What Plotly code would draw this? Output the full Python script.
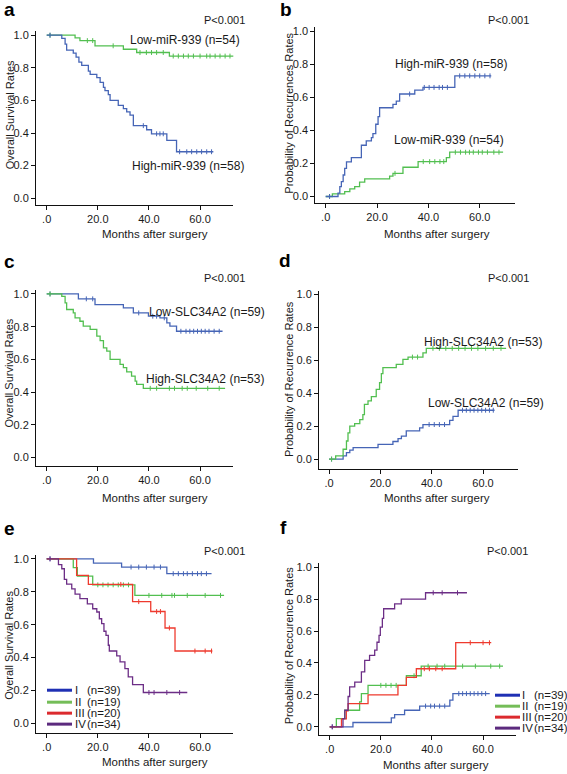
import numpy as np
import plotly.graph_objects as go

W, H = 567, 774

# ---------------- data ----------------
# panel a: overall survival by miR-939
a_low_t = [0, 11.1, 13.0, 18.9, 30.0, 35.2, 48.0]
a_low_s = [1.0, 0.984, 0.967, 0.935, 0.914, 0.894, 0.872]
a_low_end = 73.5
a_low_cens = [1.3, 15.9, 18.0, 26.0, 36.5, 39.0, 41.0, 43.0, 45.6, 49.5, 51.5, 53.5, 55.4, 57.4, 60.0, 62.6, 63.9, 65.9, 67.8, 69.8, 71.7]
a_high_t = [0, 5.9, 7.2, 7.8, 10.4, 11.5, 12.6, 13.7, 16.3, 17.0, 19.6, 20.9, 22.2, 22.8, 24.1, 24.8, 28.0, 30.0, 31.3, 32.6, 33.9, 39.1, 41.0, 47.0, 50.8]
a_high_s = [1.0, 0.98, 0.945, 0.908, 0.89, 0.865, 0.835, 0.815, 0.78, 0.76, 0.74, 0.71, 0.68, 0.66, 0.635, 0.60, 0.57, 0.55, 0.53, 0.51, 0.445, 0.42, 0.395, 0.355, 0.285]
a_high_end = 65.2
a_high_cens = [1.3, 37.8, 43.0, 44.3, 45.6, 52.0, 54.8, 56.7, 58.7, 60.6, 62.6, 64.5]

# panel b: recurrence by miR-939
b_high_t = [0, 4.8, 5.5, 6.1, 6.8, 7.4, 8.1, 10.0, 13.9, 15.8, 17.8, 18.4, 19.5, 20.4, 21.0, 26.2, 27.5, 28.8, 34.7, 37.9, 50.3]
b_high_s = [0, 0.02, 0.06, 0.09, 0.13, 0.17, 0.21, 0.235, 0.31, 0.336, 0.356, 0.38, 0.437, 0.483, 0.537, 0.557, 0.577, 0.62, 0.644, 0.66, 0.73]
b_high_end = 64.5
b_high_cens = [1.5, 32.7, 38.4, 40.3, 42.2, 44.2, 45.5, 47.4, 52.2, 54.2, 56.1, 58.1, 60.0, 62.0, 64.0]
b_low_t = [0, 2.6, 7.4, 9.4, 11.3, 13.2, 15.2, 24.9, 26.2, 30.1, 36.0, 47.0, 48.3]
b_low_s = [0, 0.016, 0.03, 0.046, 0.06, 0.087, 0.107, 0.123, 0.14, 0.177, 0.211, 0.235, 0.268]
b_low_end = 69.1
b_low_cens = [1.5, 27.0, 38.0, 40.5, 42.5, 44.5, 46.0, 50.5, 52.5, 54.5, 56.0, 57.5, 59.5, 61.0, 63.0, 65.5, 67.5]

# panel c: overall survival by SLC34A2
c_low_t = [0, 12.4, 18.9, 30.0, 33.9, 39.8, 44.3, 47.0, 48.2, 50.8]
c_low_s = [1.0, 0.97, 0.935, 0.915, 0.884, 0.864, 0.854, 0.823, 0.803, 0.772]
c_low_end = 68.8
c_low_cens = [1.3, 15.5, 18.0, 36.0, 41.5, 43.0, 46.0, 52.5, 54.5, 56.0, 57.5, 59.0, 60.5, 62.0, 63.5, 65.5, 67.5]
c_high_t = [0, 5.9, 7.2, 7.8, 10.4, 11.1, 13.0, 14.3, 17.0, 19.6, 20.9, 22.2, 23.5, 24.8, 28.7, 30.0, 31.3, 33.2, 34.6, 35.2, 37.8]
c_high_s = [1.0, 0.985, 0.945, 0.905, 0.884, 0.854, 0.833, 0.803, 0.783, 0.742, 0.715, 0.67, 0.65, 0.60, 0.57, 0.55, 0.524, 0.498, 0.467, 0.447, 0.423]
c_high_end = 69.8
c_high_cens = [1.3, 40.5, 43.0, 48.0, 50.0, 53.0, 55.0, 58.5, 63.0, 67.5]

# panel d: recurrence by SLC34A2
d_high_t = [0, 2.6, 5.5, 6.8, 7.4, 8.1, 10.0, 12.0, 13.2, 13.8, 15.2, 16.5, 18.4, 19.7, 20.4, 21.0, 26.2, 28.8, 30.8, 36.6, 37.9]
d_high_s = [0, 0.02, 0.06, 0.11, 0.16, 0.20, 0.216, 0.24, 0.27, 0.333, 0.354, 0.38, 0.424, 0.465, 0.52, 0.556, 0.576, 0.606, 0.62, 0.646, 0.673]
d_high_end = 69.0
d_high_cens = [1.0, 32.5, 34.5, 40.5, 43.0, 45.5, 48.0, 50.5, 53.0, 55.5, 58.0, 61.0, 64.0, 67.0]
d_low_t = [0, 5.5, 6.8, 8.1, 9.4, 19.1, 24.9, 26.9, 28.2, 30.1, 35.3, 36.6, 47.0, 48.3, 50.3]
d_low_s = [0, 0.02, 0.04, 0.055, 0.07, 0.09, 0.107, 0.125, 0.14, 0.172, 0.19, 0.21, 0.235, 0.26, 0.297]
d_low_end = 64.5
d_low_cens = [1.0, 39.0, 41.0, 43.0, 45.0, 52.0, 53.5, 55.0, 56.5, 58.0, 59.5, 61.0, 62.5, 64.0]

# panel e: overall survival by stage
e_I_t = [0, 18.3, 29.3, 47.0]
e_I_s = [1.0, 0.974, 0.95, 0.91]
e_I_end = 64.5
e_I_cens = [1.3, 33.0, 36.0, 39.0, 42.0, 44.5, 49.5, 51.5, 53.5, 55.0, 57.0, 59.0, 60.5, 62.5]
e_II_t = [0, 10.4, 12.0, 18.0, 34.5]
e_II_s = [1.0, 0.947, 0.895, 0.842, 0.778]
e_II_end = 69.4
e_II_cens = [20.0, 22.0, 24.0, 26.0, 28.0, 30.0, 32.0, 40.0, 45.0, 49.0, 50.0, 55.0, 62.0, 68.0]
e_III_t = [0, 11.7, 16.3, 33.6, 40.7, 46.3, 50.2]
e_III_s = [1.0, 0.90, 0.845, 0.74, 0.68, 0.58, 0.44]
e_III_end = 64.8
e_III_cens = [29.0, 36.0, 43.0, 44.5, 48.0, 58.0, 62.0, 64.5]
e_IV_t = [0, 4.6, 5.9, 6.9, 7.8, 9.8, 11.1, 13.0, 15.9, 18.0, 19.6, 20.6, 21.5, 22.4, 23.2, 24.1, 24.5, 27.4, 28.7, 30.6, 31.9, 33.6, 37.8]
e_IV_s = [1.0, 0.965, 0.94, 0.875, 0.846, 0.818, 0.786, 0.758, 0.727, 0.697, 0.677, 0.636, 0.606, 0.56, 0.535, 0.475, 0.44, 0.41, 0.374, 0.333, 0.283, 0.236, 0.188]
e_IV_end = 55.0
e_IV_cens = [1.3, 40.0, 42.0, 47.0, 52.0]

# panel f: recurrence by stage
f_I_t = [0, 9.1, 24.1, 25.4, 29.3, 35.2, 47.0, 48.2]
f_I_s = [0, 0.027, 0.056, 0.077, 0.104, 0.13, 0.167, 0.208]
f_I_end = 62.6
f_I_cens = [1.0, 37.5, 39.5, 41.0, 43.0, 45.0, 50.5, 52.0, 53.5, 55.0, 56.5, 58.0, 59.5, 61.0]
f_II_t = [0, 2.6, 5.9, 11.7, 12.4, 15.0, 30.0, 35.8]
f_II_s = [0, 0.052, 0.104, 0.156, 0.208, 0.26, 0.32, 0.38]
f_II_end = 67.8
f_II_cens = [20.0, 22.0, 24.0, 26.0, 33.0, 38.5, 42.0, 45.0, 52.0, 57.0, 63.0, 66.5]
f_III_t = [0, 4.6, 6.5, 7.2, 15.0, 26.7, 30.0, 33.9, 49.3]
f_III_s = [0, 0.05, 0.10, 0.146, 0.20, 0.26, 0.31, 0.364, 0.527]
f_III_end = 63.2
f_III_cens = [37.0, 39.0, 41.5, 44.0, 55.0, 60.0, 62.5]
f_IV_t = [0, 5.2, 5.9, 7.2, 7.8, 9.8, 12.4, 13.7, 15.6, 17.6, 18.5, 19.3, 19.8, 20.6, 21.1, 25.4, 28.0, 37.5]
f_IV_s = [0, 0.052, 0.104, 0.19, 0.25, 0.28, 0.344, 0.417, 0.448, 0.48, 0.53, 0.573, 0.625, 0.68, 0.74, 0.77, 0.80, 0.84]
f_IV_end = 53.7
f_IV_cens = [1.0, 40.5, 44.0, 50.0]

x_tickvals = [0, 20, 40, 60]
x_ticktext = [".0", "20.0", "40.0", "60.0"]
y_tickvals = [0, 0.2, 0.4, 0.6, 0.8, 1.0]
y_ticktext = ["0.0", "0.2", "0.4", "0.6", "0.8", "1.0"]

BLUE = "#4665b6"
GREEN = "#52bf50"
RED = "#ee3a2e"
PURPLE = "#6c2e86"
LEG_BLUE = "#1f30b4"
LEG_GREEN = "#74bd58"
LEG_RED = "#dc2a2e"
LEG_PURPLE = "#5c2a7e"
FONT = "Liberation Sans, Arial, sans-serif"
TXT = "#1a1a1a"

# pixel geometry of each panel: y-axis line x, px of month 0, px per month,
# px of value 1.0, px of value 0.0, x-axis line y, x-axis right end
panels = {
    "a": dict(yax=36, x0=46.7, ppm=2.556, y1=33.3, y0=196.7, xax=203.3, xend=233.3),
    "b": dict(yax=315.3, x0=325.7, ppm=2.567, y1=29.3, y0=195.0, xax=201.7, xend=514.7),
    "c": dict(yax=36, x0=46.7, ppm=2.556, y1=292.7, y0=456.7, xax=465.0, xend=233.0),
    "d": dict(yax=319, x0=329.0, ppm=2.567, y1=293.3, y0=458.3, xax=468.3, xend=518.0),
    "e": dict(yax=36, x0=46.7, ppm=2.556, y1=558.3, y0=723.3, xax=732.7, xend=233.0),
    "f": dict(yax=319, x0=329.7, ppm=2.556, y1=566.7, y0=726.7, xax=735.0, xend=516.3),
}

fig = go.Figure()


def px(x):
    return x / W


def py(y):
    return 1 - y / H


def step_at(t, s, c):
    i = int(np.searchsorted(np.array(t), c, side="right")) - 1
    return s[max(i, 0)]


def add_curve(idx, t, s, end, cens, color):
    xa = "x" if idx == 1 else f"x{idx}"
    ya = "y" if idx == 1 else f"y{idx}"
    fig.add_trace(go.Scatter(x=list(t) + [end], y=list(s) + [s[-1]], mode="lines",
                             line=dict(color=color, width=1.3, shape="hv"),
                             xaxis=xa, yaxis=ya, showlegend=False, hoverinfo="skip"))
    cy = [step_at(t, s, c) for c in cens]
    fig.add_trace(go.Scatter(x=cens, y=cy, mode="markers",
                             marker=dict(symbol="line-ns-open", size=3.5, color=color,
                                         line=dict(color=color, width=1)),
                             xaxis=xa, yaxis=ya, showlegend=False, hoverinfo="skip"))


curves = [
    (1, a_low_t, a_low_s, a_low_end, a_low_cens, GREEN),
    (1, a_high_t, a_high_s, a_high_end, a_high_cens, BLUE),
    (2, b_low_t, b_low_s, b_low_end, b_low_cens, GREEN),
    (2, b_high_t, b_high_s, b_high_end, b_high_cens, BLUE),
    (3, c_low_t, c_low_s, c_low_end, c_low_cens, BLUE),
    (3, c_high_t, c_high_s, c_high_end, c_high_cens, GREEN),
    (4, d_low_t, d_low_s, d_low_end, d_low_cens, BLUE),
    (4, d_high_t, d_high_s, d_high_end, d_high_cens, GREEN),
    (5, e_I_t, e_I_s, e_I_end, e_I_cens, BLUE),
    (5, e_II_t, e_II_s, e_II_end, e_II_cens, GREEN),
    (5, e_III_t, e_III_s, e_III_end, e_III_cens, RED),
    (5, e_IV_t, e_IV_s, e_IV_end, e_IV_cens, PURPLE),
    (6, f_I_t, f_I_s, f_I_end, f_I_cens, BLUE),
    (6, f_II_t, f_II_s, f_II_end, f_II_cens, GREEN),
    (6, f_III_t, f_III_s, f_III_end, f_III_cens, RED),
    (6, f_IV_t, f_IV_s, f_IV_end, f_IV_cens, PURPLE),
]
for c in curves:
    add_curve(*c)

layout = dict(width=W, height=H, margin=dict(l=0, r=0, t=0, b=0),
              paper_bgcolor="white", plot_bgcolor="white", showlegend=False,
              font=dict(family=FONT, color=TXT))

axis_common = dict(showgrid=False, zeroline=False, showline=True, linecolor="#111", linewidth=1,
                   ticks="outside", ticklen=4, tickwidth=1, tickcolor="#111",
                   tickfont=dict(family=FONT, size=11, color=TXT), fixedrange=True)

for i, key in enumerate("abcdef", start=1):
    p = panels[key]
    ytop = p["y1"] - 4
    ppu = p["y0"] - p["y1"]
    xr = [(p["yax"] - p["x0"]) / p["ppm"], (p["xend"] - p["x0"]) / p["ppm"]]
    yr = [(p["y0"] - p["xax"]) / ppu, (p["y0"] - ytop) / ppu]
    xname = "xaxis" if i == 1 else f"xaxis{i}"
    yname = "yaxis" if i == 1 else f"yaxis{i}"
    anchor_x = "y" if i == 1 else f"y{i}"
    anchor_y = "x" if i == 1 else f"x{i}"
    layout[xname] = dict(axis_common, domain=[px(p["yax"]), px(p["xend"])], range=xr,
                         anchor=anchor_x, tickvals=x_tickvals, ticktext=x_ticktext)
    layout[yname] = dict(axis_common, domain=[py(p["xax"]), py(ytop)], range=yr,
                         anchor=anchor_y, tickvals=y_tickvals, ticktext=y_ticktext)

fig.update_layout(**layout)

ann = []


def text(t, x, y, size, xanchor="left", yanchor="middle", bold=False, angle=0, color=TXT):
    ann.append(dict(text=f"<b>{t}</b>" if bold else t, x=px(x), y=py(y), xref="paper", yref="paper",
                    xanchor=xanchor, yanchor=yanchor, showarrow=False, textangle=angle,
                    font=dict(family=FONT, size=size, color=color)))


# panel letters
for letter, (lx, ly) in {"a": (2, 8), "b": (278, 8), "c": (2, 260), "d": (277, 259),
                         "e": (2, 528), "f": (278, 527)}.items():
    text(letter, lx, ly, 19, bold=True, color="#000")

# P values
for (x, y) in [(247, 18), (531, 18), (247, 277), (531, 277), (247, 550), (530, 550)]:
    text("P&lt;0.001", x, y, 11, xanchor="right")

# curve labels
text("Low-miR-939 (n=54)", 128, 38, 12)
text("High-miR-939 (n=58)", 130, 164, 12)
text("High-miR-939 (n=58)", 393, 62, 12)
text("Low-miR-939 (n=54)", 392, 138, 12)
text("Low-SLC34A2 (n=59)", 147, 311, 12)
text("High-SLC34A2 (n=53)", 144, 378, 12)
text("High-SLC34A2 (n=53)", 422, 341, 12)
text("Low-SLC34A2 (n=59)", 426, 402, 12)

# axis titles
for (t, x, y) in [("Overall Survival Rates", 9.5, 113), ("Probability of Recurrences Rates", 289, 112),
                  ("Overall Survival Rates", 9.5, 372), ("Probability of Recurrence Rates", 289, 378),
                  ("Overall Survival Rates", 9.5, 645), ("Probability of Reccurence Rates", 289, 645)]:
    text(t, x, y, 11, xanchor="center", yanchor="middle", angle=-90)
for (x, y) in [(155, 233), (437, 233), (155, 497), (437, 497), (155, 762), (436, 765)]:
    text("Months after surgery", x, y, 11.5, xanchor="center")

# legends for e and f
leg_names = ["I", "II", "III", "IV"]
leg_n = ["(n=39)", "(n=19)", "(n=20)", "(n=34)"]
leg_cols = [LEG_BLUE, LEG_GREEN, LEG_RED, LEG_PURPLE]
shapes = []
for (lx0, lx1, tx, nx, rows) in [(47, 72, 73, 85, [690, 702, 713, 724]),
                                 (495, 520, 520, 532, [695, 706, 717, 728])]:
    for nm, nn, col, ry in zip(leg_names, leg_n, leg_cols, rows):
        shapes.append(dict(type="line", xref="paper", yref="paper", x0=px(lx0), x1=px(lx1),
                           y0=py(ry), y1=py(ry), line=dict(color=col, width=3)))
        text(nm, tx, ry, 11.5)
        text(nn, nx, ry, 11.5)

fig.update_layout(annotations=ann, shapes=shapes)
fig.write_html("out.html", config={"displayModeBar": False},
               post_script="document.body.style.margin='0';document.body.style.overflow='hidden';")
